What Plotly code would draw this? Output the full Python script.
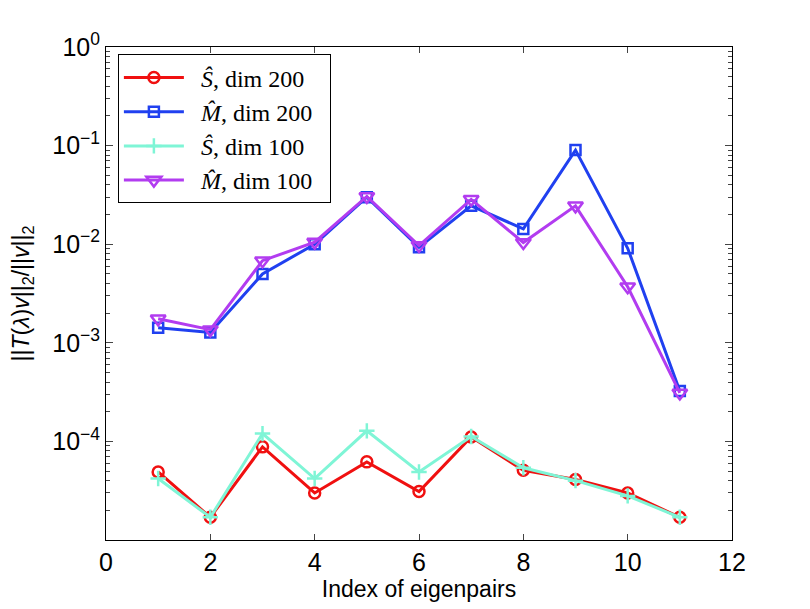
import plotly.graph_objects as go

idx = list(range(1, 12))
s_dim200 = [4.9e-5, 1.7e-5, 8.8e-5, 3.0e-5, 6.2e-5, 3.1e-5, 1.11e-4, 5.1e-5, 4.1e-5, 3.0e-5, 1.7e-5]
m_dim200 = [1.42e-3, 1.27e-3, 5.0e-3, 1.0e-2, 3.0e-2, 9.3e-3, 2.45e-2, 1.43e-2, 9.0e-2, 9.1e-3, 3.25e-4]
s_dim100 = [4.2e-5, 1.7e-5, 1.2e-4, 4.2e-5, 1.28e-4, 4.9e-5, 1.12e-4, 5.4e-5, 4.0e-5, 2.8e-5, 1.7e-5]
m_dim100 = [1.75e-3, 1.36e-3, 6.8e-3, 1.05e-2, 3.05e-2, 9.7e-3, 2.85e-2, 1.04e-2, 2.45e-2, 3.7e-3, 3.1e-4]

names = ["\u2002<i>Ŝ</i>, dim 200\u2002", "\u2002<i>M̂</i>, dim 200\u2002",
         "\u2002<i>Ŝ</i>, dim 100\u2002", "\u2002<i>M̂</i>, dim 100\u2002"]
colors = ["#f01010", "#2040f0", "#7ff5d6", "#b23cf0"]
symbols = ["circle-open", "square-open", "cross-thin-open", "triangle-down-open"]
sizes = [11, 10, 11, 13]
series = [s_dim200, m_dim200, s_dim100, m_dim100]

ytickvals = [1e-4, 1e-3, 1e-2, 1e-1, 1]
yticktext = ["10<sup>−4</sup>", "10<sup>−3</sup>", "10<sup>−2</sup>", "10<sup>−1</sup>", "10<sup>0</sup>"]
xtickvals = [0, 2, 4, 6, 8, 10, 12]

fig = go.Figure()
for n, c, sym, sz, ys in zip(names, colors, symbols, sizes, series):
    fig.add_trace(go.Scatter(
        x=idx, y=ys, name=n, mode="lines+markers",
        line=dict(color=c, width=3),
        marker=dict(symbol=sym, size=sz, color=c, line=dict(color=c, width=2.5)),
    ))

fig.update_layout(
    width=810, height=609,
    margin=dict(l=98, r=86, t=39, b=77),
    paper_bgcolor="white", plot_bgcolor="white",
    font=dict(family="Liberation Sans, Arial, sans-serif", size=20, color="black"),
    showlegend=True,
    legend=dict(
        x=0.019, y=0.985, xanchor="left", yanchor="top",
        bordercolor="black", borderwidth=1, bgcolor="white",
        font=dict(family="Liberation Serif, DejaVu Serif, serif", size=24),
        itemwidth=60, tracegroupgap=0,
    ),
)
fig.update_xaxes(
    range=[0, 12], tickvals=xtickvals, ticks="inside", ticklen=6,
    showline=True, linecolor="black", linewidth=1, mirror="ticks",
    showgrid=False, zeroline=False,
    title=dict(text="Index of eigenpairs", font=dict(size=23), standoff=2),
    tickfont=dict(size=25),
)
fig.update_yaxes(
    type="log", range=[-5, 0], tickvals=ytickvals, ticktext=yticktext,
    ticks="inside", ticklen=7,
    minor=dict(ticks="inside", ticklen=4, dtick="D1", showgrid=False),
    showline=True, linecolor="black", linewidth=1, mirror="ticks",
    showgrid=False, zeroline=False,
    title=dict(text="||<i>T</i>(<i>λ</i>)<i>v</i>||<sub>2</sub>/||<i>v</i>||<sub>2</sub>", font=dict(size=23), standoff=16),
    tickfont=dict(size=25),
)

fig.write_html("out.html")
